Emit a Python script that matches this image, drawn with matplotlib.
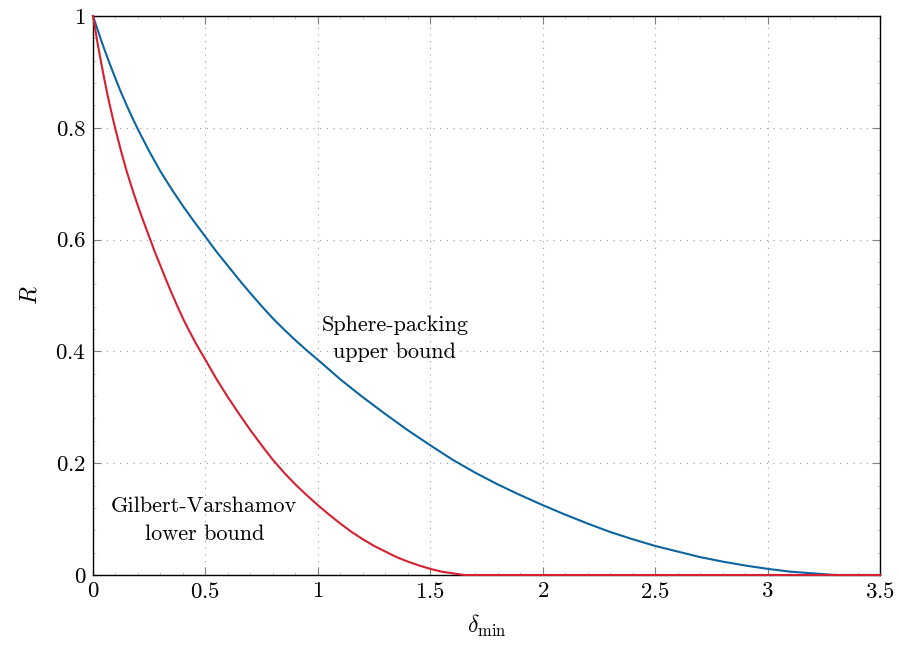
import numpy as np
import matplotlib
matplotlib.use('Agg')
import matplotlib.pyplot as plt
from matplotlib.ticker import MultipleLocator

plt.rcParams['font.family'] = 'serif'
plt.rcParams['font.serif'] = ['cmr10']
plt.rcParams['mathtext.fontset'] = 'cm'
plt.rcParams['axes.formatter.use_mathtext'] = True

# sphere-packing upper bound
sp_delta = [0, 0.01, 0.02, 0.035, 0.05, 0.075, 0.1, 0.125, 0.15, 0.175, 0.2, 0.25, 0.3, 0.35,
            0.4, 0.45, 0.5, 0.55, 0.6, 0.65, 0.7, 0.75, 0.8, 0.85, 0.9, 0.95, 1.0,
            1.1, 1.2, 1.3, 1.4, 1.5, 1.6, 1.7, 1.8, 1.9, 2.0, 2.1, 2.2, 2.3, 2.4, 2.5,
            2.6, 2.7, 2.8, 2.9, 3.0, 3.1, 3.2, 3.25, 3.3, 3.5]
sp_rate = [1.0, 0.988, 0.976, 0.958, 0.941, 0.914, 0.888, 0.863, 0.84, 0.818, 0.797, 0.758, 0.722, 0.69,
           0.66, 0.632, 0.605, 0.578, 0.553, 0.528, 0.504, 0.481, 0.459, 0.439, 0.42, 0.402, 0.385,
           0.35, 0.318, 0.288, 0.259, 0.232, 0.206, 0.183, 0.162, 0.143, 0.125, 0.108, 0.092, 0.077, 0.064, 0.052,
           0.042, 0.032, 0.024, 0.017, 0.011, 0.006, 0.003, 0.0015, 0.0, 0.0]

# Gilbert-Varshamov lower bound
gv_delta = [0, 0.005, 0.01, 0.0175, 0.025, 0.0375, 0.05, 0.0625, 0.075, 0.0875, 0.1, 0.125, 0.15, 0.175,
            0.2, 0.225, 0.25, 0.275, 0.3, 0.325, 0.35, 0.375, 0.4, 0.425, 0.45, 0.475, 0.5,
            0.55, 0.6, 0.65, 0.7, 0.75, 0.8, 0.85, 0.9, 0.95, 1.0, 1.05, 1.1, 1.15, 1.2, 1.25,
            1.3, 1.35, 1.4, 1.45, 1.5, 1.55, 1.6, 1.625, 1.65, 3.5]
gv_rate = [1.0, 0.988, 0.976, 0.958, 0.941, 0.914, 0.888, 0.863, 0.84, 0.818, 0.797, 0.758, 0.722, 0.69,
           0.66, 0.632, 0.605, 0.578, 0.553, 0.528, 0.504, 0.481, 0.459, 0.439, 0.42, 0.402, 0.385,
           0.35, 0.318, 0.288, 0.259, 0.232, 0.206, 0.183, 0.162, 0.143, 0.125, 0.108, 0.092, 0.077, 0.064, 0.052,
           0.042, 0.032, 0.024, 0.017, 0.011, 0.006, 0.003, 0.0015, 0.0, 0.0]

x_ticks = [0, 0.5, 1, 1.5, 2, 2.5, 3, 3.5]
x_tick_labels = ['0', '0.5', '1', '1.5', '2', '2.5', '3', '3.5']
y_ticks = [0, 0.2, 0.4, 0.6, 0.8, 1]
y_tick_labels = ['0', '0.2', '0.4', '0.6', '0.8', '1']

fig = plt.figure(figsize=(8.99, 6.48), dpi=100)
ax = fig.add_axes([93/899, 1 - 575/648, (880 - 93)/899, (575 - 16)/648])

ax.plot(sp_delta, sp_rate, color='#0b65a0', lw=1.5, clip_on=False, zorder=3)
ax.plot(gv_delta, gv_rate, color='#d62030', lw=1.5, clip_on=False, zorder=3)

ax.set_xlim(0, 3.5)
ax.set_ylim(0, 1)
ax.set_xticks(x_ticks)
ax.set_xticklabels(['$%s$' % s for s in x_tick_labels])
ax.set_yticks(y_ticks)
ax.set_yticklabels(['$%s$' % s for s in y_tick_labels])
ax.xaxis.set_minor_locator(MultipleLocator(0.1))
ax.yaxis.set_minor_locator(MultipleLocator(0.04))

ax.tick_params(which='major', direction='in', top=True, right=True, length=6,
               width=0.8, color='#808080', labelsize=16.5, pad=5)
ax.tick_params(which='minor', direction='in', top=True, right=True, length=2,
               width=0.5, color='#b0b0b0')
ax.grid(True, which='major', linestyle=(0, (1, 5)), color='#9a9a9a', lw=0.8)
for s in ax.spines.values():
    s.set_linewidth(1.0)
    s.set_color('black')

ax.set_xlabel(r'$\delta_{\min}$', fontsize=17, labelpad=8)
ax.set_ylabel(r'$R$', fontsize=17, labelpad=10)

ax.text(1.342, 0.423, 'Sphere-packing\nupper bound', ha='center', va='center',
        fontsize=16, linespacing=1.5)
ax.text(0.495, 0.098, 'Gilbert-Varshamov\nlower bound', ha='center', va='center',
        fontsize=16, linespacing=1.5)

fig.savefig('out.png', dpi=100)
